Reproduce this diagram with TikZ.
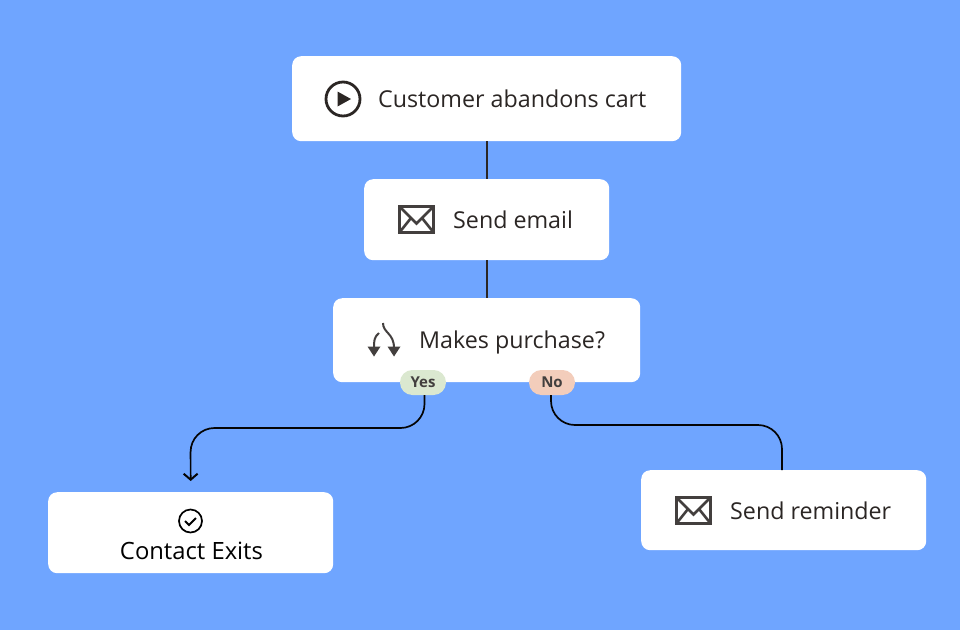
\documentclass[tikz,border=0pt]{standalone}
\usepackage{fontspec}
\setmainfont{Open Sans}
\usetikzlibrary{arrows.meta}
\definecolor{bg}{HTML}{6FA5FF}
\definecolor{ink}{HTML}{2B2624}
\definecolor{iconc}{HTML}{433F3E}
\definecolor{yesc}{HTML}{DBE8D0}
\definecolor{noc}{HTML}{F3CDBB}
\tikzset{
 card/.style={fill=white,rounded corners=9pt,inner sep=0pt,anchor=north west},
 cardtext/.style={text=ink,font=\fontsize{23.25}{27}\selectfont,inner sep=0pt,anchor=base west},
 pill/.style={rounded corners=12.4pt,inner sep=0pt,minimum width=46pt,minimum height=25pt,font=\fontsize{15}{18}\selectfont\bfseries,text=iconc},
 wire/.style={draw=ink,line width=1.7pt},
 bendwire/.style={draw=black!90!ink,line width=1.7pt,rounded corners=24pt},
 envelope/.style={draw=iconc,line width=3.4pt},
}
\newcommand{\envicon}[2]{%
 \draw[envelope,line width=2.6pt] (#1-17.5,#2-13.5) -- (#1,#2+4) -- (#1+17.5,#2-13.5);
 \draw[envelope,line width=2.6pt] (#1-17.5,#2+13.5) -- (#1-5.5,#2-1.5);
 \draw[envelope,line width=2.6pt] (#1+17.5,#2+13.5) -- (#1+5.5,#2-1.5);
 \draw[envelope] (#1-17,#2-13) rectangle (#1+17,#2+13);
}
\begin{document}
\begin{tikzpicture}[x=1pt,y=-1pt]
\useasboundingbox (0,0) rectangle (960,630);
\fill[bg] (0,0) rectangle (960,630);
% cards
\node[card,minimum width=389pt,minimum height=85pt] (start) at (292,56) {};
\node[card,minimum width=245pt,minimum height=81pt] (mail) at (364,179) {};
\node[card,minimum width=307pt,minimum height=84pt] (ask) at (333,298) {};
\node[card,minimum width=285pt,minimum height=81pt] (exits) at (48,492) {};
\node[card,minimum width=285pt,minimum height=80pt] (remind) at (641,470) {};
% connectors
\draw[wire] (start.south) -- (mail.north);
\draw[wire] (mail.south) -- (ask.north);
% labels
\node[cardtext] (t1) at (378,107) {Customer abandons cart};
\node[cardtext] (t2) at (453,228) {Send email};
\node[cardtext] (t3) at (419,348.5) {Makes purchase?};
\node[cardtext,anchor=base,text=black,font=\fontsize{23.8}{27}\selectfont] (t4) at (191.5,559) {Contact Exits};
\node[cardtext] (t5) at (730,519) {Send reminder};
% pills
\node[pill,fill=yesc] (yes) at (423,382.5) {Yes};
\node[pill,fill=noc] (no) at (552,382.5) {No};
% branch connectors
\coordinate (yturn) at (190.5,428);
\coordinate (nturn) at (782,425);
\draw[bendwire,-{Straight Barb[length=6pt,width=14pt,line width=2pt]},shorten >=11pt] ([xshift=1.5pt]yes.south) |- (yturn) -- (exits.north);
\draw[bendwire] ([xshift=-1pt]no.south) |- (nturn) -- (remind.north -| nturn);
% play icon
\draw[ink,line width=2.8pt] (343,99) circle (17);
\fill[ink] (337.5,91.5) -- (351,99) -- (337.5,106.5) -- cycle;
% envelopes
\envicon{416.5}{219.5}
\envicon{693.5}{510.5}
% split icon
\draw[iconc,line width=2pt] (383,323) .. controls (383,333) and (394,333) .. (394,348);
\draw[iconc,line width=2pt] (379,333) .. controls (374,337) and (374,341) .. (374,348);
\fill[iconc] (367.5,346.5) -- (380.5,346.5) -- (374,356.5) -- cycle;
\fill[iconc] (387.5,346.5) -- (400.5,346.5) -- (394,356.5) -- cycle;
% check icon
\draw[black,line width=1.7pt] (190.5,521) circle (11.5);
\draw[black,line width=2pt] (185,521) -- (189,525) -- (196,518);
\end{tikzpicture}
\end{document}
